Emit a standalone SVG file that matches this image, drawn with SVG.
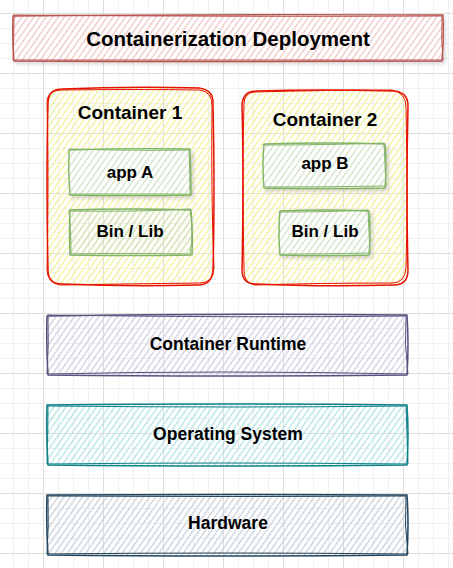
<svg xmlns="http://www.w3.org/2000/svg" width="453" height="568" viewBox="0 0 453 568">
<style>
  .t{font-family:"Liberation Sans",Arial,Helvetica,sans-serif;font-weight:bold;fill:#000;text-anchor:middle}
  .sk{fill:none;stroke-linejoin:round;stroke-linecap:round}
</style>
<defs>
  <pattern id="gMin" x="13" y="13" width="15" height="15" patternUnits="userSpaceOnUse">
    <path d="M0.5,0V15M0,0.5H15" stroke="#f0f0f0" stroke-width="1"/>
  </pattern>
  <pattern id="gMaj" x="43" y="13" width="60" height="60" patternUnits="userSpaceOnUse">
    <path d="M0.5,0V60M0,0.5H60" stroke="#dedede" stroke-width="1"/>
  </pattern>
  <pattern id="hRed" width="5" height="5" patternUnits="userSpaceOnUse" patternTransform="rotate(35)">
    <line x1="2.5" y1="0" x2="2.5" y2="5" stroke="#eec4c2" stroke-width="1.3"/>
  </pattern>
  <pattern id="hYel" width="5" height="5" patternUnits="userSpaceOnUse" patternTransform="rotate(35)">
    <line x1="2.5" y1="0" x2="2.5" y2="5" stroke="#f2f29a" stroke-width="1.3"/>
  </pattern>
  <pattern id="hGrn" width="5" height="5" patternUnits="userSpaceOnUse" patternTransform="rotate(35)">
    <line x1="2.5" y1="0" x2="2.5" y2="5" stroke="#cfe0c4" stroke-width="1.3"/>
  </pattern>
  <pattern id="hPur" width="5" height="5" patternUnits="userSpaceOnUse" patternTransform="rotate(35)">
    <line x1="2.5" y1="0" x2="2.5" y2="5" stroke="#cfcde0" stroke-width="1.3"/>
  </pattern>
  <pattern id="hTeal" width="5" height="5" patternUnits="userSpaceOnUse" patternTransform="rotate(35)">
    <line x1="2.5" y1="0" x2="2.5" y2="5" stroke="#b2e2e5" stroke-width="1.3"/>
  </pattern>
  <pattern id="hSlate" width="5" height="5" patternUnits="userSpaceOnUse" patternTransform="rotate(35)">
    <line x1="2.5" y1="0" x2="2.5" y2="5" stroke="#c6d0d8" stroke-width="1.3"/>
  </pattern>
  <filter id="sh" x="-10%" y="-20%" width="130%" height="160%">
    <feDropShadow dx="2" dy="3" stdDeviation="2" flood-color="#000" flood-opacity="0.18"/>
  </filter>
</defs>

<rect width="453" height="568" fill="#fff"/>
<rect width="453" height="568" fill="url(#gMin)"/>
<rect width="453" height="568" fill="url(#gMaj)"/>

<g id="title">
  <rect x="13" y="15" width="430" height="46" fill="#fff" filter="url(#sh)" opacity="0.9"/>
  <rect x="13" y="15" width="430" height="46" fill="url(#hRed)"/>
  <path class="sk" stroke="#b85450" stroke-width="1.4" d="M13,16 Q200,14 443,15 Q444,38 442,61 Q220,62 14,61 Q12,40 13,16 Z"/>
  <path class="sk" stroke="#b85450" stroke-width="1" d="M14,15 Q240,17 442,16 Q441,40 443,60 Q200,60 13,60 Q14,38 14,15"/>
  <text class="t" x="228" y="46" font-size="20.5">Containerization Deployment</text>
</g>

<g id="container1">
  <rect x="47" y="88" width="167" height="197" rx="14" fill="url(#hYel)"/>
  <path class="sk" stroke="#e51400" stroke-width="1.5" d="M62,89 Q130,86 199,88 Q214,90 213,104 Q215,190 213,270 Q212,285 198,285 Q130,287 62,284 Q48,284 48,270 Q46,180 48,103 Q48,89 62,89 Z"/>
  <path class="sk" stroke="#e51400" stroke-width="1" d="M60,90 Q140,89 200,90 Q212,92 212,105 Q211,200 214,268 Q213,283 200,283 Q120,284 60,285 Q47,283 47,269 Q49,170 47,104 Q46,91 60,90"/>
  <text class="t" x="130" y="119" font-size="19">Container 1</text>
</g>

<g id="appA">
  <rect x="69" y="149" width="122" height="46" fill="#fff" filter="url(#sh)"/>
  <rect x="69" y="149" width="122" height="46" fill="url(#hGrn)"/>
  <path class="sk" stroke="#82b366" stroke-width="1.4" d="M69,150 Q130,148 190,149 Q191,172 191,195 Q130,196 70,195 Q68,172 69,150 Z"/>
  <path class="sk" stroke="#82b366" stroke-width="1" d="M70,149 Q140,151 189,150 Q190,170 190,194 Q120,194 69,194"/>
  <text class="t" x="130" y="178" font-size="17">app A</text>
</g>

<g id="binlib1">
  <rect x="69" y="209" width="124" height="46" fill="url(#hGrn)"/>
  <path class="sk" stroke="#82b366" stroke-width="1.4" d="M70,210 Q130,208 191,210 Q193,232 192,255 Q130,256 70,255 Q69,232 70,210 Z"/>
  <path class="sk" stroke="#82b366" stroke-width="1" d="M69,211 Q140,212 190,209 Q194,235 190,254 Q120,253 71,254 Q71,230 69,211"/>
  <text class="t" x="130" y="237" font-size="17">Bin / Lib</text>
</g>

<g id="container2">
  <rect x="242" y="90" width="166" height="195" rx="14" fill="url(#hYel)"/>
  <path class="sk" stroke="#e51400" stroke-width="1.5" d="M256,91 Q320,89 394,91 Q408,92 408,106 Q406,190 408,270 Q408,285 394,285 Q320,287 256,284 Q242,284 242,270 Q244,180 242,105 Q243,91 256,91 Z"/>
  <path class="sk" stroke="#e51400" stroke-width="1" d="M254,92 Q330,90 392,90 Q406,93 406,107 Q408,200 406,268 Q405,283 392,283 Q320,283 255,285 Q243,283 244,269 Q242,170 244,104 Q244,93 254,92"/>
  <text class="t" x="325" y="126" font-size="19">Container 2</text>
</g>

<g id="appB">
  <rect x="263" y="143" width="123" height="45" fill="#fff" filter="url(#sh)"/>
  <rect x="263" y="143" width="123" height="45" fill="url(#hGrn)"/>
  <path class="sk" stroke="#82b366" stroke-width="1.4" d="M264,144 Q325,142 385,144 Q387,166 385,188 Q325,189 264,188 Q262,166 264,144 Z"/>
  <path class="sk" stroke="#82b366" stroke-width="1" d="M263,145 Q330,145 384,143 Q385,165 386,186 Q320,187 265,187"/>
  <text class="t" x="325" y="169" font-size="17">app B</text>
</g>

<g id="binlib2">
  <rect x="279" y="210" width="91" height="45" fill="#fff" filter="url(#sh)"/>
  <rect x="279" y="210" width="91" height="45" fill="url(#hGrn)"/>
  <path class="sk" stroke="#82b366" stroke-width="1.4" d="M280,211 Q325,209 369,211 Q371,233 369,255 Q325,256 280,255 Q278,233 280,211 Z"/>
  <path class="sk" stroke="#82b366" stroke-width="1" d="M279,212 Q330,212 368,210 Q369,232 370,253 Q320,254 281,254"/>
  <text class="t" x="325" y="237" font-size="17">Bin / Lib</text>
</g>

<g id="runtime">
  <rect x="47" y="315" width="361" height="60" fill="url(#hPur)"/>
  <path class="sk" stroke="#56517e" stroke-width="1.5" d="M47,316 Q220,313 407,315 Q409,345 407,375 Q220,377 48,375 Q46,345 47,316 Z"/>
  <path class="sk" stroke="#56517e" stroke-width="1" d="M48,315 Q240,318 406,316 Q404,345 408,374 Q220,370 47,374 Q49,345 48,315"/>
  <text class="t" x="228" y="350" font-size="17.5">Container Runtime</text>
</g>

<g id="os">
  <rect x="47" y="405" width="361" height="61" fill="url(#hTeal)"/>
  <path class="sk" stroke="#0e8088" stroke-width="1.5" d="M47,405 Q220,403 407,405 Q409,435 407,465 Q220,467 48,465 Q46,435 47,405 Z"/>
  <path class="sk" stroke="#0e8088" stroke-width="1" d="M48,406 Q240,408 406,406 Q407,435 408,464 Q220,462 47,464 Q48,435 48,406"/>
  <text class="t" x="228" y="440" font-size="17.5">Operating System</text>
</g>

<g id="hardware">
  <rect x="47" y="495" width="361" height="61" fill="url(#hSlate)"/>
  <path class="sk" stroke="#23445d" stroke-width="1.5" d="M47,495 Q220,494 407,495 Q409,525 407,555 Q220,557 48,555 Q46,525 47,495 Z"/>
  <path class="sk" stroke="#23445d" stroke-width="1" d="M48,496 Q240,497 406,496 Q404,525 408,554 Q220,552 47,554 Q49,525 48,496"/>
  <text class="t" x="228" y="529" font-size="17.5">Hardware</text>
</g>

<g id="connectors"/>
</svg>
